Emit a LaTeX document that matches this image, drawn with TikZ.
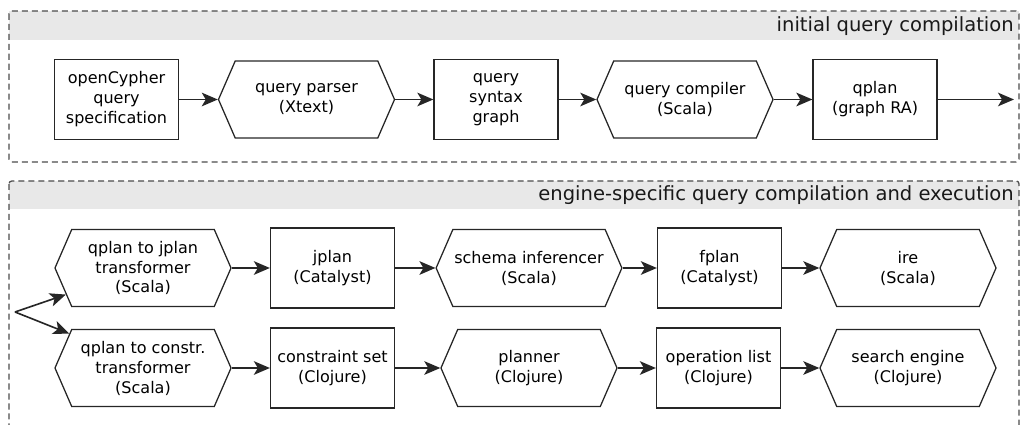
\documentclass[tikz,border=0pt]{standalone}
\usepackage{fontspec}
\setmainfont{DejaVu Sans}
\usetikzlibrary{shapes.symbols,arrows.meta}

\begin{document}
\begin{tikzpicture}[x=0.025cm,y=-0.025cm,
  bx/.style={rectangle,draw=black!85,line width=0.9pt,minimum width=3.1cm,minimum height=2cm,
    align=center,inner sep=1pt,font=\fontsize{11.4}{14.2}\selectfont},
  hx/.style={signal,signal to=west and east,signal pointer angle=133,draw=black!85,line width=0.9pt,
    minimum width=4.4cm,minimum height=1.93cm,align=center,inner sep=1pt,font=\fontsize{11.4}{14.2}\selectfont},
  ar/.style={-{Stealth[length=4mm,width=3.4mm,inset=1mm]},line width=1.15pt,draw=black!85,fill=black!85},
  fr/.style={draw=black!70,dash pattern=on 4.3pt off 2.8pt,line width=0.9pt,rounded corners=2pt},
  ba/.style={fill=black!9},
  ti/.style={anchor=east,inner sep=0pt,text=black!90,font=\fontsize{13.9}{16}\selectfont},
  ]

  \clip (0,0) rectangle (1020,425);

  % frames
  \fill[ba] (9,11) rectangle (1019,40);
  \draw[fr] (9,11) rectangle (1019,162);
  \node at (1014,26) [ti] (t1) {initial query compilation};

  \fill[ba] (9,181) rectangle (1019,209);
  \draw[fr] (9,181) rectangle (1019,470);
  \node at (1014,195) [ti] (t2) {engine-specific query compilation and execution};

  % initial compilation
  \node at (116.5,99.5) [bx] (sp) {openCypher\\query\\specification};
  \node at (306.5,99.5) [hx] (pa) {query parser\\(Xtext)};
  \node at (496,99.5) [bx] (sy) {query\\syntax\\graph};
  \node at (685,99.5) [hx] (co) {query compiler\\(Scala)};
  \node at (875,99.5) [bx] (qp) {qplan\\(graph RA)};
  \coordinate (out) at (1014,99.5);

  \draw[ar] (sp.east) -- (pa.west);
  \draw[ar] (pa.east) -- (sy.west);
  \draw[ar] (sy.east) -- (co.west);
  \draw[ar] (co.east) -- (qp.west);
  \draw[ar] (qp.east) -- (out);

  % engine-specific
  \coordinate (split) at (15,312);

  \node at (143,268) [hx] (tj) {qplan to jplan\\transformer\\(Scala)};
  \node at (332.5,268) [bx] (jp) {jplan\\(Catalyst)};
  \node at (529,268) [hx] (si) {schema inferencer\\(Scala)};
  \node at (719.5,268) [bx] (fp) {fplan\\(Catalyst)};
  \node at (908,268) [hx] (ir) {ire\\(Scala)};

  \node at (143,368) [hx] (tc) {qplan to constr.\\transformer\\(Scala)};
  \node at (332.5,368) [bx] (cs) {constraint set\\(Clojure)};
  \node at (529,368) [hx] (pl) {planner\\(Clojure)};
  \node at (718.5,368) [bx] (ol) {operation list\\(Clojure)};
  \node at (908,368) [hx] (se) {search engine\\(Clojure)};

  \draw[ar] (split) -- (tj.199);
  \draw[ar] (split) -- (tc.155);

  \draw[ar] (tj.east) -- (jp.west);
  \draw[ar] (jp.east) -- (si.west);
  \draw[ar] (si.east) -- (fp.west);
  \draw[ar] (fp.east) -- (ir.west);

  \draw[ar] (tc.east) -- (cs.west);
  \draw[ar] (cs.east) -- (pl.west);
  \draw[ar] (pl.east) -- (ol.west);
  \draw[ar] (ol.east) -- (se.west);

\end{tikzpicture}
\end{document}
